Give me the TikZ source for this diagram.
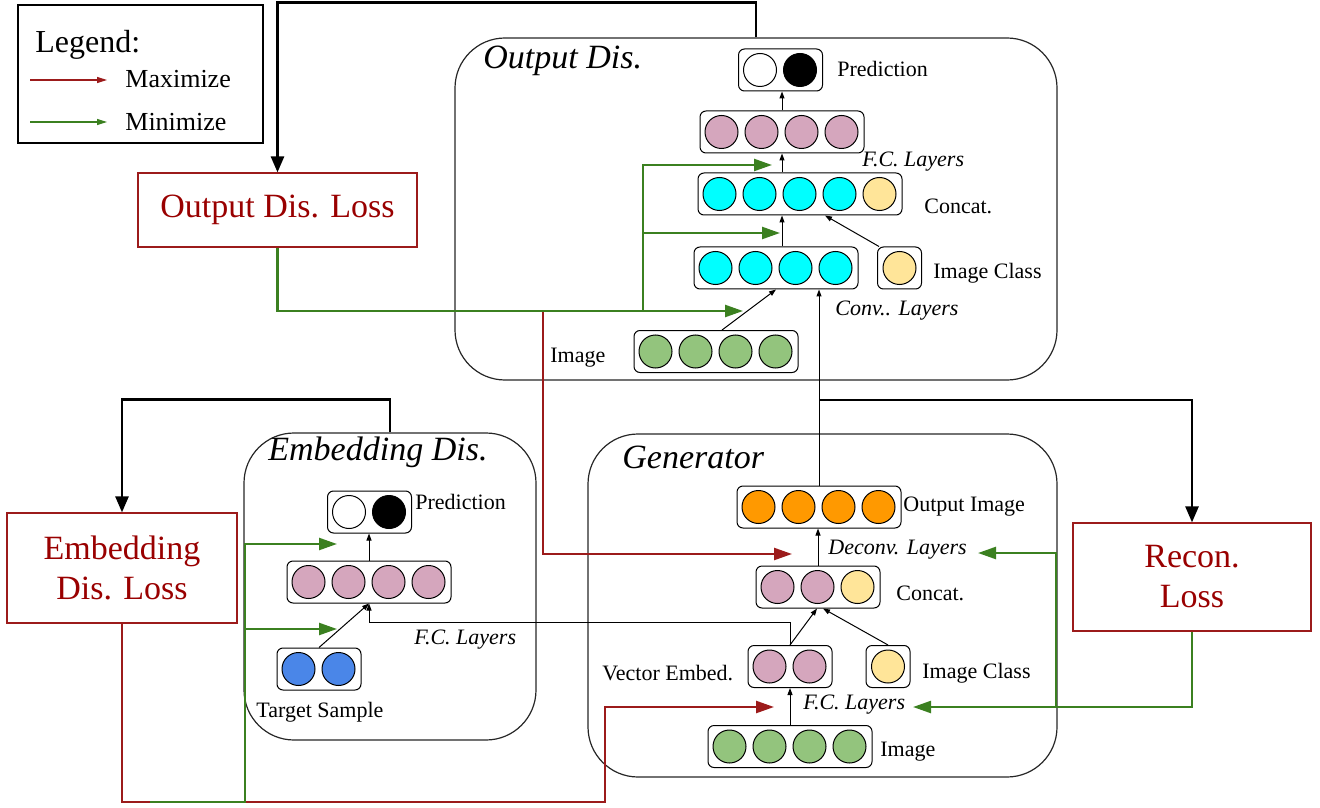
\documentclass[tikz,border=0pt]{standalone}
\usepackage{fontspec}
\setmainfont{Liberation Serif}
\usetikzlibrary{arrows.meta}

\definecolor{maxred}{HTML}{9C1B1B}
\definecolor{losstext}{HTML}{990000}
\definecolor{mingreen}{HTML}{3B8020}
\definecolor{nupink}{HTML}{D5A6BD}
\definecolor{nucyan}{HTML}{00FFFF}
\definecolor{nuyellow}{HTML}{FFE599}
\definecolor{nugreen}{HTML}{93C47D}
\definecolor{nuorange}{HTML}{FF9900}
\definecolor{nublue}{HTML}{4A86E8}

\newcommand{\lblfont}{\fontsize{11}{13}\selectfont}
\newcommand{\bigfont}{\fontsize{17}{20}\selectfont}

\begin{document}
\begin{tikzpicture}[x=0.5pt, y=-0.5pt,
  every node/.style={font=\lblfont, inner sep=0pt},
  lbl/.style={anchor=west},
  lbli/.style={anchor=west, font=\lblfont\itshape},
  layerbox/.style={draw, rounded corners=3pt, minimum height=21pt, line width=0.5pt},
  neuron/.style={circle, draw, minimum size=16.5pt, line width=0.5pt},
  groupbox/.style={draw=black!85, rounded corners=25pt, line width=0.6pt},
  grouptitle/.style={anchor=west, font=\bigfont\itshape},
  lossbox/.style={draw=maxred, line width=0.6pt, text=losstext, font=\bigfont, align=center},
  thinarrow/.style={-{Triangle[length=3.5pt,width=2.5pt]}, line width=0.5pt},
  fbarrow/.style={-{Triangle[length=8pt,width=6.5pt]}, line width=1.3pt},
  maxarrow/.style={color=maxred, -{Triangle[length=9pt,width=6pt]}, line width=1.2pt},
  minarrow/.style={color=mingreen, -{Triangle[length=9pt,width=6pt]}, line width=1.2pt},
  legarrow/.style={-{Triangle[length=5pt,width=3pt]}, line width=0.6pt},
]
\useasboundingbox (0,0) rectangle (1320,807);

% legend
\node[draw, line width=0.6pt, minimum width=122.5pt, minimum height=69pt] (legend) at (140.5,74) {};
\node[lbl, font=\fontsize{16}{19}\selectfont] (legtitle) at (35,45) {Legend:};
\coordinate (maxa) at (30,80);
\coordinate (maxb) at (107,80);
\coordinate (mina) at (30,122);
\coordinate (minb) at (107,122);
\draw[legarrow, maxred] (maxa) -- (maxb);
\draw[legarrow, mingreen] (mina) -- (minb);
\node[lbl, font=\fontsize{13}{15}\selectfont] (maxlbl) at (125,79) {Maximize};
\node[lbl, font=\fontsize{13}{15}\selectfont] (minlbl) at (125,122) {Minimize};

% group boxes
\node[groupbox, minimum width=301pt, minimum height=171pt] (odbox) at (756,209) {};
\node[groupbox, minimum width=146pt, minimum height=153.5pt] (edbox) at (390,586.5) {};
\node[groupbox, minimum width=234.5pt, minimum height=171.5pt] (genbox) at (822.5,605.5) {};
\node[grouptitle] (odtitle) at (483,61) {Output Dis.};
\node[grouptitle] (edtitle) at (268,452) {Embedding Dis.};
\node[grouptitle] (gentitle) at (622,457) {Generator};

% losses
\node[lossbox, minimum width=139.5pt, minimum height=37pt] (odloss) at (277.5,210) {Output Dis. Loss};
\node[lossbox, minimum width=115pt, minimum height=55pt] (edloss) at (122,568) {Embedding\\Dis. Loss};
\node[lossbox, minimum width=119pt, minimum height=54pt] (recloss) at (1192,577) {Recon.\\Loss};

% output discriminator layers
\node[layerbox, minimum width=42pt] (odpred) at (780.5,70) {};
\foreach \c [count=\i] in {white,black}
  \node[neuron, fill=\c] at ([xshift=\i*20pt-9pt]odpred.west) {};
\node[layerbox, minimum width=82pt] (odfc) at (782,132) {};
\foreach \c [count=\i] in {nupink,nupink,nupink,nupink}
  \node[neuron, fill=\c] at ([xshift=\i*20pt-9pt]odfc.west) {};
\node[layerbox, minimum width=102pt] (odcat) at (800,194) {};
\foreach \c [count=\i] in {nucyan,nucyan,nucyan,nucyan,nuyellow}
  \node[neuron, fill=\c] at ([xshift=\i*20pt-9pt]odcat.west) {};
\node[layerbox, minimum width=82pt] (odconv) at (776,268) {};
\foreach \c [count=\i] in {nucyan,nucyan,nucyan,nucyan}
  \node[neuron, fill=\c] at ([xshift=\i*20pt-9pt]odconv.west) {};
\node[layerbox, minimum width=22pt] (odcls) at (899.5,268) {};
\node[neuron, fill=nuyellow] at (odcls) {};
\node[layerbox, minimum width=82pt] (odimg) at (716,351.5) {};
\foreach \c [count=\i] in {nugreen,nugreen,nugreen,nugreen}
  \node[neuron, fill=\c] at ([xshift=\i*20pt-9pt]odimg.west) {};

\node[lbl] (odpredlbl) at (837,69) {Prediction};
\node[lbli] (odfclbl) at (862,162) {F.C. Layers};
\node[lbl] (odcatlbl) at (924,206) {Concat.};
\node[lbl] (odclslbl) at (933,273) {Image Class};
\node[lbli] (odconvlbl) at (835,311) {Conv.. Layers};
\node[lbl] (odimglbl) at (550,358) {Image};

% embedding discriminator layers
\node[layerbox, minimum width=42pt] (edpred) at (369.5,512) {};
\foreach \c [count=\i] in {white,black}
  \node[neuron, fill=\c] at ([xshift=\i*20pt-9pt]edpred.west) {};
\node[layerbox, minimum width=82pt] (edfc) at (369,582) {};
\foreach \c [count=\i] in {nupink,nupink,nupink,nupink}
  \node[neuron, fill=\c] at ([xshift=\i*20pt-9pt]edfc.west) {};
\node[layerbox, minimum width=42pt] (edtgt) at (319,669) {};
\foreach \c [count=\i] in {nublue,nublue}
  \node[neuron, fill=\c] at ([xshift=\i*20pt-9pt]edtgt.west) {};

\node[lbl] (edpredlbl) at (415,502) {Prediction};
\node[lbli] (edfclbl) at (414,640) {F.C. Layers};
\node[lbl] (edtgtlbl) at (256,712) {Target Sample};

% generator layers
\node[layerbox, minimum width=82pt] (gout) at (819,507) {};
\foreach \c [count=\i] in {nuorange,nuorange,nuorange,nuorange}
  \node[neuron, fill=\c] at ([xshift=\i*20pt-9pt]gout.west) {};
\node[layerbox, minimum width=62pt] (gcat) at (818,587) {};
\foreach \c [count=\i] in {nupink,nupink,nuyellow}
  \node[neuron, fill=\c] at ([xshift=\i*20pt-9pt]gcat.west) {};
\node[layerbox, minimum width=42pt] (gve) at (790,666.5) {};
\foreach \c [count=\i] in {nupink,nupink}
  \node[neuron, fill=\c] at ([xshift=\i*20pt-9pt]gve.west) {};
\node[layerbox, minimum width=22pt] (gcls) at (888,666.5) {};
\node[neuron, fill=nuyellow] at (gcls) {};
\node[layerbox, minimum width=82pt] (gimg) at (790,746.5) {};
\foreach \c [count=\i] in {nugreen,nugreen,nugreen,nugreen}
  \node[neuron, fill=\c] at ([xshift=\i*20pt-9pt]gimg.west) {};

\node[lbl] (goutlbl) at (903,507) {Output Image};
\node[lbli] (gdeconvlbl) at (828,550) {Deconv. Layers};
\node[lbl] (gcatlbl) at (896,593) {Concat.};
\node[lbl] (gvelbl) at (602,673) {Vector Embed.};
\node[lbl] (gclslbl) at (922,673) {Image Class};
\node[lbli] (gfclbl) at (803,705) {F.C. Layers};
\node[lbl] (gimglbl) at (880,752) {Image};

% feedback to the losses
\draw[fbarrow] (odbox.north) -- ++(0,-35) -| (odloss.north);
\draw[fbarrow] (edbox.north) -- ++(0,-33) -| (edloss.north);
\coordinate (fork) at (819,400);
\draw[thinarrow] (gout.north) -- (gout.north |- odconv.south);
\draw[fbarrow] (fork) -| (recloss.north);

% inner arrows
\draw[thinarrow] (odfc.north) -- (odfc.north |- odpred.south);
\draw[thinarrow] (odfc.south |- odcat.north) -- (odfc.south);
\draw[thinarrow] (odfc.south |- odconv.north) -- (odfc.south |- odcat.south);
\draw[thinarrow] ([xshift=1pt]odcls.north west) -- ([xshift=12.5pt]odcat.south);
\draw[thinarrow] ([xshift=3pt]odimg.north) -- (odconv.south);
\draw[thinarrow] (edfc.north) -- (edfc.north |- edpred.south);
\draw[thinarrow] (edtgt.north) -- (edfc.south);
\draw[thinarrow] (gve.north) -- ++(0,-23) -| (edfc.south);
\draw[thinarrow] (gimg.north) -- (gve.south);
\draw[thinarrow] (gve.north) -- ([xshift=-0.5pt]gcat.south);
\draw[thinarrow] (gcls.north) -- ([xshift=2.5pt]gcat.south);
\draw[thinarrow] (gcat.north) -- (gcat.north |- gout.south);

% output dis. loss
\coordinate (gjoin) at (643,311);
\coordinate (rjoin) at (543,311);
\coordinate (odconvin) at (743,311);
\coordinate (odcatin) at (780,233);
\coordinate (odfcin) at (772,165);
\coordinate (gdeconvin) at (792,554);
\draw[maxarrow] (rjoin) |- (gdeconvin);
\draw[minarrow] (odloss.south) |- (odconvin);
\draw[minarrow] (gjoin) |- (odfcin);
\draw[minarrow] (gjoin |- odcatin) -- (odcatin);

% embedding dis. loss
\coordinate (rbend) at (605,802);
\coordinate (gfcin) at (774,707);
\draw[maxarrow] (edloss.south) |- (rbend) |- (gfcin);
\coordinate (gstart) at (150,802);
\coordinate (gbend) at (245,802);
\coordinate (edfcin) at (337,544);
\coordinate (edtgtin) at (337,629);
\draw[minarrow] (gstart) -- (gbend) |- (edfcin);
\draw[minarrow] (gbend |- edtgtin) -- (edtgtin);

% recon. loss
\coordinate (rjoin2) at (1056,707);
\coordinate (gfcin2) at (913,707);
\coordinate (gdeconvin2) at (978,553);
\draw[minarrow] (recloss.south) |- (gfcin2);
\draw[minarrow] (rjoin2) |- (gdeconvin2);
\end{tikzpicture}
\end{document}
